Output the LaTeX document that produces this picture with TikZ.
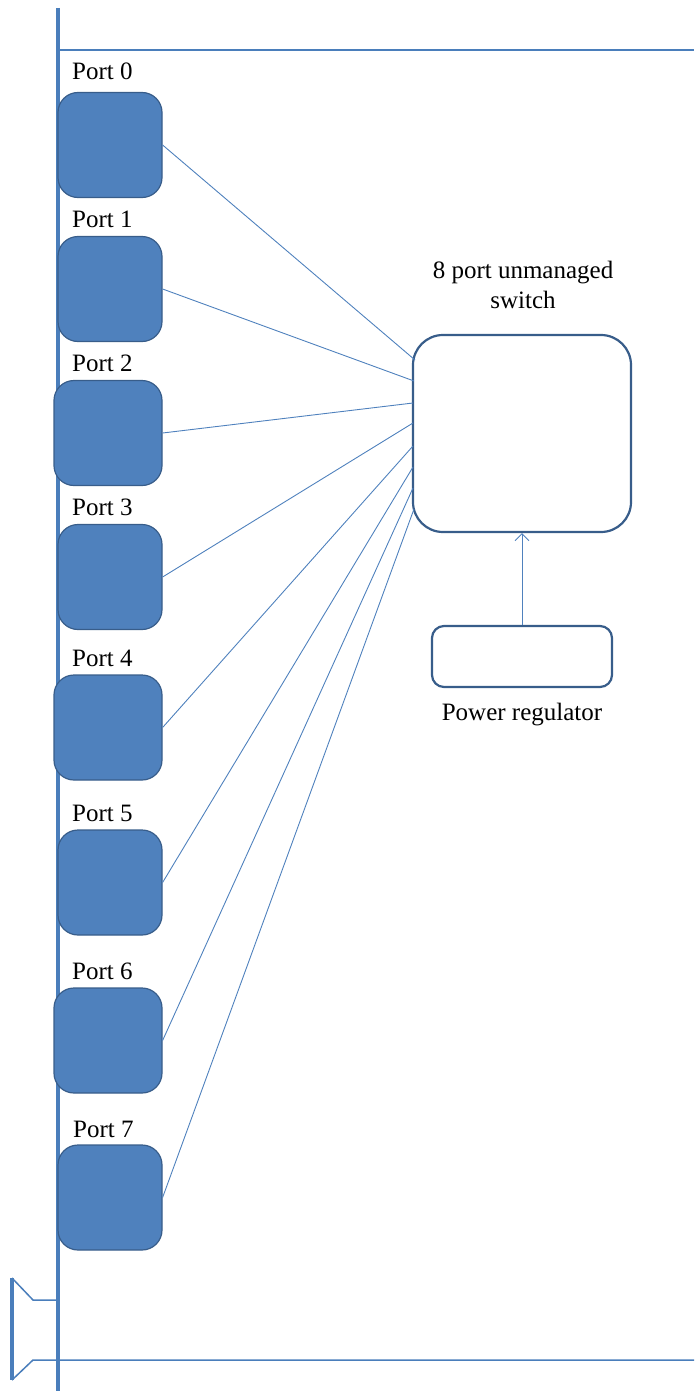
\documentclass[tikz,border=0pt]{standalone}
\usepackage{fontspec}
\setmainfont{Liberation Serif}
\newfontfamily\tnr{Liberation Serif}
\usetikzlibrary{arrows.meta}
\definecolor{accent}{HTML}{4F81BD}
\definecolor{edge}{HTML}{385D8A}
\definecolor{rail}{HTML}{4A7EBB}
\begin{document}
\begin{tikzpicture}[x=1pt,y=-1pt,
  portbox/.style={rectangle,rounded corners=20pt,fill=accent,draw=edge,line width=1.2pt,minimum width=104pt,minimum height=105pt,inner sep=0pt},
  portlbl/.style={anchor=base west,inner sep=0pt,font=\tnr\fontsize{25}{30}\selectfont},
  wire/.style={draw=accent,line width=0.9pt},
  railline/.style={draw=rail,line width=4pt},
  thinrail/.style={draw=rail,line width=1.5pt},
  txt/.style={font=\tnr\fontsize{25}{30}\selectfont,inner sep=0pt}]
\useasboundingbox (0,0) rectangle (694,1391);
% rails
\draw[thinrail] (58,50) -- (694,50);
\draw[thinrail] (58,1300) -- (33,1300) -- (12,1278);
\draw[thinrail] (694,1360) -- (33,1360) -- (12,1380);
\draw[railline] (12,1278) -- (12,1380);
\draw[railline] (58,8) -- (58,1391);
% ports
\node[portbox] (p0) at (110,145) {};
\node[portbox] (p1) at (110,289) {};
\node[portbox,minimum width=108pt] (p2) at (108,433) {};
\node[portbox] (p3) at (110,577) {};
\node[portbox,minimum width=108pt] (p4) at (108,727.5) {};
\node[portbox] (p5) at (110,882.5) {};
\node[portbox,minimum width=108pt] (p6) at (108,1040.5) {};
\node[portbox] (p7) at (110,1197.5) {};
\node[portlbl] (l0) at (72,80) {Port 0};
\node[portlbl] (l1) at (72,227) {Port 1};
\node[portlbl] (l2) at (72,371) {Port 2};
\node[portlbl] (l3) at (72,515) {Port 3};
\node[portlbl] (l4) at (72,666) {Port 4};
\node[portlbl] (l5) at (72,821) {Port 5};
\node[portlbl] (l6) at (72,979) {Port 6};
\node[portlbl] (l7) at (73,1137) {Port 7};
% switch
\node[rectangle,rounded corners=30pt,draw=edge,line width=2.2pt,minimum width=218pt,minimum height=197pt,inner sep=0pt] (sw) at (522,433.5) {};
\node[txt,align=center] (swl) at (523,285) {8 port unmanaged\\switch};
\node[rectangle,rounded corners=12pt,draw=edge,line width=2.2pt,minimum width=180pt,minimum height=61pt,inner sep=0pt] (pr) at (522,656.5) {};
\node[txt,anchor=base] (prl) at (522,720) {Power regulator};
\draw[wire,-{Straight Barb[length=7pt,width=14pt,line width=0.9pt]}] (pr.north) -- (sw.south);
% wires
\coordinate (s0) at (415,360);
\coordinate (s1) at (414,381);
\coordinate (s2) at (413,403);
\coordinate (s3) at (413,423);
\coordinate (s4) at (413,446);
\coordinate (s5) at (413,467);
\coordinate (s6) at (413,488);
\coordinate (s7) at (414,509);
\foreach \i in {0,...,7} { \draw[wire] (p\i.east) -- (s\i); }
\end{tikzpicture}
\end{document}
